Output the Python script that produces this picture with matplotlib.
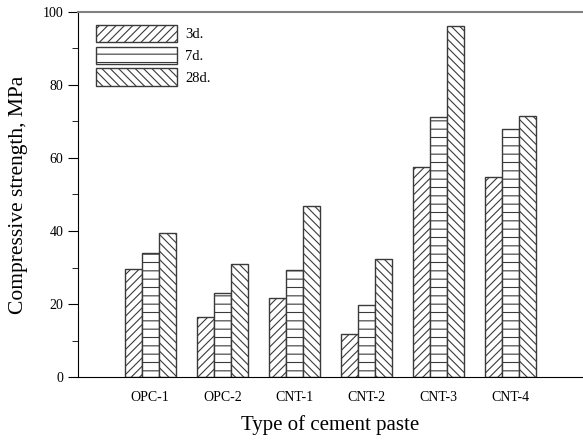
import numpy as np
import matplotlib
matplotlib.use("Agg")
import matplotlib.pyplot as plt
from matplotlib.ticker import MultipleLocator

# ------------------------------------------------------------------ #
#  Data
# ------------------------------------------------------------------ #
pastes = ["OPC-1", "OPC-2", "CNT-1", "CNT-2", "CNT-3", "CNT-4"]
ages = ["3d.", "7d.", "28d."]
strength_3d = [29.6, 16.4, 21.6, 11.8, 57.4, 54.8]
strength_7d = [34.0, 23.0, 29.3, 19.7, 71.2, 67.8]
strength_28d = [39.4, 31.0, 46.8, 32.3, 96.0, 71.5]

series = [strength_3d, strength_7d, strength_28d]
hatches = ["////", "--", "\\\\\\\\"]

plt.rcParams["font.family"] = ["Liberation Serif", "DejaVu Serif"]
plt.rcParams["hatch.linewidth"] = 0.8

fig = plt.figure(figsize=(5.83, 4.40), dpi=100)
ax = fig.add_axes([0.134, 0.143, 0.866, 0.830])

x = np.arange(1, len(pastes) + 1)
width = 0.235
for i, (vals, label, h) in enumerate(zip(series, ages, hatches)):
    ax.bar(x + (i - 1) * width, vals, width, label=label, hatch=h,
           facecolor="white", edgecolor="#3a3a3a", linewidth=1.0)

ax.set_xlim(0, 7)
ax.set_ylim(0, 100)
ax.set_xticks(x)
ax.set_xticklabels(pastes, fontsize=10)
ax.tick_params(axis="x", length=0, pad=10)
ax.yaxis.set_major_locator(MultipleLocator(20))
ax.yaxis.set_minor_locator(MultipleLocator(10))
ax.tick_params(axis="y", which="major", length=7, labelsize=10)
ax.tick_params(axis="y", which="minor", length=4)

ax.spines["right"].set_visible(False)
ax.spines["top"].set_color("#808080")
ax.spines["top"].set_linewidth(1.5)

ax.set_ylabel("Compressive strength, MPa", fontsize=15.5, labelpad=11)
ax.set_xlabel("Type of cement paste", fontsize=15, labelpad=8)

ax.legend(loc="upper left", bbox_to_anchor=(0.01, 1.0), frameon=False,
          fontsize=10.5, handlelength=5.5, handleheight=1.45,
          labelspacing=0.3, handletextpad=0.6)

fig.savefig("out.png", dpi=100)
